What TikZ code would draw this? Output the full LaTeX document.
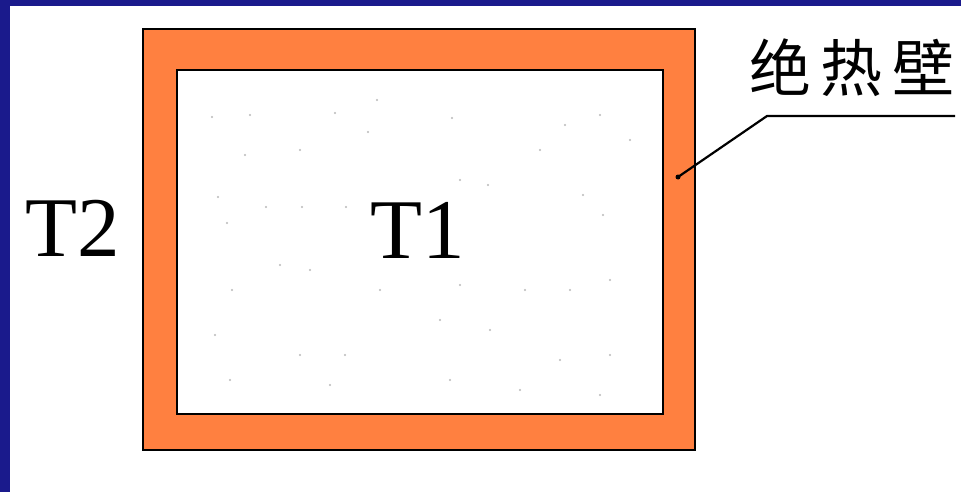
\documentclass[tikz,border=0pt]{standalone}
\usepackage{fontspec}
\setmainfont{Liberation Serif}
\newfontfamily\cjk{Noto Sans CJK SC}
\usetikzlibrary{positioning,calc}
\definecolor{slideblue}{RGB}{26,26,140}
\definecolor{wallorange}{RGB}{255,128,64}
\definecolor{speck}{RGB}{185,185,185}
\tikzset{
  wall/.style={rectangle,draw=black,line width=2pt,fill=wallorange,inner sep=0pt},
  gasbox/.style={rectangle,draw=black,line width=2pt,fill=white,inner sep=0pt},
  templabel/.style={font=\fontsize{85}{85}\selectfont,inner sep=0pt},
  walllabel/.style={font=\cjk\fontsize{62}{62}\selectfont,inner sep=0pt},
  leader/.style={line width=2.2pt,line join=round},
  speckdot/.style={circle,fill=speck,inner sep=0pt,minimum size=2.2pt}
}
\begin{document}
\begin{tikzpicture}[x=1pt,y=-1pt]
  % slide background
  \fill[slideblue] (0,0) rectangle (961,492);
  \fill[white] (10,6) rectangle (961,492);
  \useasboundingbox (0,0) rectangle (961,492);

  % insulated container
  \node[wall,minimum width=552pt,minimum height=421pt] (wall) at (419,239.5) {};
  \node[gasbox,minimum width=486pt,minimum height=344pt] (gas) at (420,242) {};

  % faint gas particles
  \foreach \px/\py in {212/117,250/115,335/113,377/100,368/132,452/118,245/155,300/150,
      565/125,600/115,630/140,540/150,218/197,266/207,302/207,346/207,460/180,488/185,
      583/195,603/215,227/223,280/265,310/270,232/290,380/290,460/285,525/290,570/290,
      610/280,215/335,300/355,345/355,440/320,490/330,560/360,610/355,230/380,330/385,
      450/380,520/390,600/395}
    \node[speckdot] at (\px,\py) {};

  % labels
  \node[templabel] (tin) at (418,230) {T1};
  \node[templabel] (tout) at (73,228) {T2};
  \node[walllabel] (adiab) at (852,68) {绝\hspace{10pt}热\hspace{10pt}壁};

  % leader line
  \coordinate (tip) at (678,177);
  \coordinate (bend) at (767,116);
  \fill (tip) circle (2.5pt);
  \draw[leader] (tip) -- (bend) -- (bend -| adiab.east);
\end{tikzpicture}
\end{document}
